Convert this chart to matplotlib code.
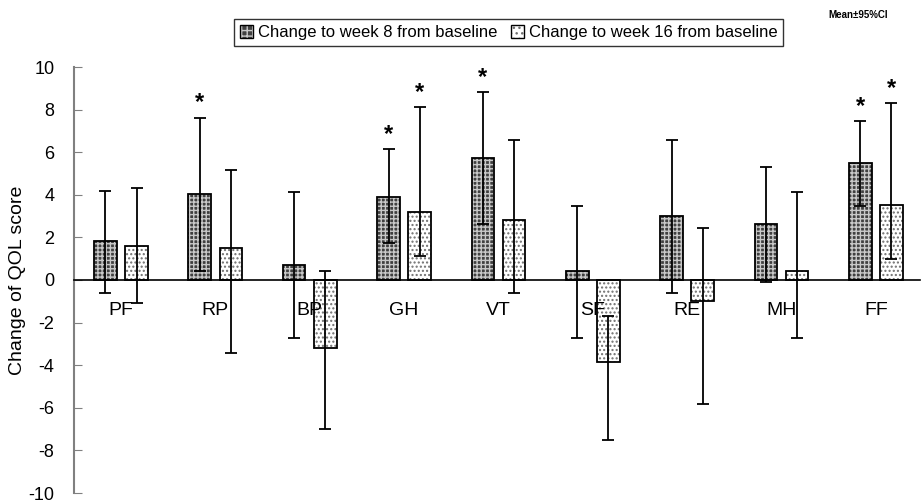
import numpy as np
import matplotlib
matplotlib.use('Agg')
import matplotlib.pyplot as plt
from matplotlib.patches import Patch

plt.rcParams['font.family'] = ['Liberation Sans', 'DejaVu Sans']
plt.rcParams['axes.unicode_minus'] = False

# SF-36 domains + FF
categories = ['PF', 'RP', 'BP', 'GH', 'VT', 'SF', 'RE', 'MH', 'FF']

# change to week 8 from baseline (mean, lower CI, upper CI)
wk8_mean = [1.85, 4.02, 0.70, 3.91, 5.71, 0.44, 3.02, 2.63, 5.49]
wk8_low = [-0.60, 0.44, -2.71, 1.75, 2.63, -2.71, -0.60, -0.11, 3.49]
wk8_high = [4.19, 7.62, 4.13, 6.13, 8.83, 3.49, 6.59, 5.31, 7.46]

# change to week 16 from baseline
wk16_mean = [1.61, 1.50, -3.18, 3.18, 2.83, -3.83, -0.99, 0.44, 3.51]
wk16_low = [-1.10, -3.41, -7.00, 1.14, -0.60, -7.53, -5.80, -2.71, 1.00]
wk16_high = [4.33, 5.15, 0.44, 8.12, 6.59, -1.69, 2.44, 4.12, 8.31]

# significant differences (asterisks)
wk8_sig = [False, True, False, True, True, False, False, False, True]
wk16_sig = [False, False, False, True, False, False, False, False, True]

fig = plt.figure(figsize=(9.23, 5.0), dpi=100)
ax = fig.add_axes([0.080, 0.014, 0.917, 0.852])

x = np.arange(len(categories))
w = 0.24
off = 0.165

wk8_mean = np.array(wk8_mean)
wk16_mean = np.array(wk16_mean)
err8 = [wk8_mean - np.array(wk8_low), np.array(wk8_high) - wk8_mean]
err16 = [wk16_mean - np.array(wk16_low), np.array(wk16_high) - wk16_mean]

# hatched fill layer, then black outline on top
ax.bar(x - off, wk8_mean, w, color='#404040', edgecolor='#c8c8c8',
       hatch='++++', linewidth=0, zorder=2)
ax.bar(x - off, wk8_mean, w, fill=False, edgecolor='black', linewidth=1.3, zorder=3)
ax.bar(x + off, wk16_mean, w, color='white', edgecolor='#707070',
       hatch='....', linewidth=0, zorder=2)
ax.bar(x + off, wk16_mean, w, fill=False, edgecolor='black', linewidth=1.3, zorder=3)

ax.errorbar(x - off, wk8_mean, yerr=err8, fmt='none', ecolor='black',
            elinewidth=1.3, capsize=4, capthick=1.3, zorder=4)
ax.errorbar(x + off, wk16_mean, yerr=err16, fmt='none', ecolor='black',
            elinewidth=1.3, capsize=4, capthick=1.3, zorder=4)

for i in range(len(categories)):
    if wk8_sig[i]:
        ax.text(x[i] - off, wk8_high[i] + 0.15, '*', ha='center', va='bottom',
                fontsize=17, fontweight='bold')
    if wk16_sig[i]:
        ax.text(x[i] + off, wk16_high[i] + 0.15, '*', ha='center', va='bottom',
                fontsize=17, fontweight='bold')

ax.set_xlim(-0.5, len(categories) - 0.53)
ax.set_ylim(-10, 10)
ax.set_yticks(np.arange(-10, 11, 2))
ax.set_xticks(x)
ax.set_xticklabels(categories)
ax.tick_params(axis='x', length=0, pad=16, labelsize=14)
ax.tick_params(axis='y', direction='in', length=6, color='#808080', labelsize=13, pad=14)
ax.xaxis.set_zorder(5)  # category labels drawn over the bars

ax.spines['top'].set_visible(False)
ax.spines['right'].set_visible(False)
ax.spines['bottom'].set_position(('data', 0))
ax.spines['bottom'].set_linewidth(1.2)
ax.spines['left'].set_color('#808080')
ax.spines['left'].set_linewidth(1.5)
ax.set_ylabel('Change of QOL score', fontsize=14, labelpad=2)

h8 = (Patch(facecolor='#404040', edgecolor='#c8c8c8', hatch='+++', linewidth=0),
      Patch(fill=False, edgecolor='black', linewidth=1))
h16 = (Patch(facecolor='white', edgecolor='#707070', hatch='...', linewidth=0),
       Patch(fill=False, edgecolor='black', linewidth=1))
leg = fig.legend([h8, h16], ['Change to week 8 from baseline', 'Change to week 16 from baseline'],
                 loc='center', bbox_to_anchor=(0.551, 0.935), ncol=2, fontsize=12,
                 frameon=True, fancybox=False, edgecolor='black', handlelength=0.8,
                 handleheight=0.8, handletextpad=0.3, columnspacing=0.8,
                 borderpad=0.35)
leg.get_frame().set_linewidth(1.0)

fig.text(0.93, 0.97, 'Mean±95%CI', fontsize=7, fontweight='bold', ha='center', va='center')

fig.savefig('out.png', dpi=100)
